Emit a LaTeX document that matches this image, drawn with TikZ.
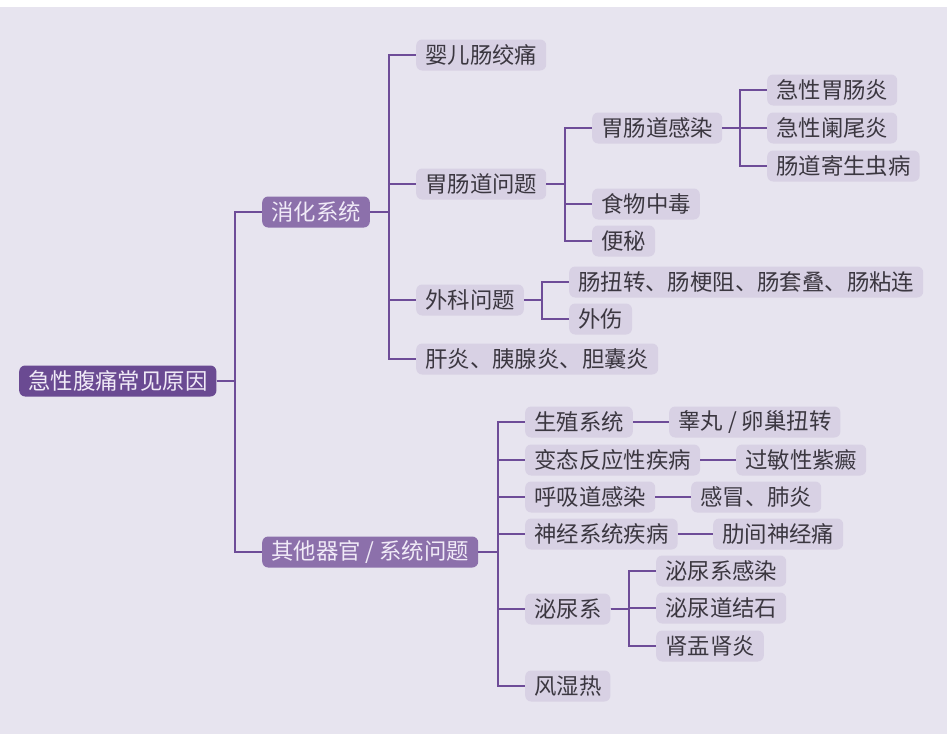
\documentclass[tikz,border=0pt]{standalone}
\usepackage{fontspec}
\newfontfamily\cjk{Noto Sans CJK SC}
\usetikzlibrary{positioning}
\definecolor{mmBack}{HTML}{E7E4EF}
\definecolor{mmRoot}{HTML}{6A4A92}
\definecolor{mmMain}{HTML}{8C70AB}
\definecolor{mmLeaf}{HTML}{D8D1E4}
\definecolor{mmLine}{HTML}{6E4C98}
\definecolor{mmInk}{HTML}{3B3740}
\definecolor{mmPale}{HTML}{F0EAF7}
\tikzset{
  box/.style={rounded corners=6pt, anchor=west, minimum height=31pt, inner xsep=9pt, inner ysep=0pt, font=\cjk\fontsize{22.4}{26}\selectfont},
  rootbox/.style={box, fill=mmRoot, text=mmPale},
  mainbox/.style={box, fill=mmMain, text=mmPale},
  leafbox/.style={box, fill=mmLeaf, text=mmInk},
  link/.style={draw=mmLine, line width=1.7pt},
}
\begin{document}
\begin{tikzpicture}[x=1pt,y=-1pt]
  \useasboundingbox (0,0) rectangle (947,742);
  \fill[mmBack] (0,7) rectangle (947,734);

  % root and main branches
  \node[rootbox] (root) at (19,381) {急性腹痛常见原因};
  \node[mainbox] (dig) at (262,212) {消化系统};
  \node[mainbox] (oth) at (262,552) {其他器官 / 系统问题};

  % digestive system
  \node[leafbox] (colic) at (416,55) {婴儿肠绞痛};
  \node[leafbox] (gi) at (416,184) {胃肠道问题};
  \node[leafbox] (surg) at (416,300) {外科问题};
  \node[leafbox] (liver) at (416,359) {肝炎、胰腺炎、胆囊炎};
  \node[leafbox] (inf) at (592,128) {胃肠道感染};
  \node[leafbox] (food) at (592,204) {食物中毒};
  \node[leafbox] (const) at (592,241) {便秘};
  \node[leafbox] (gastro) at (767,90) {急性胃肠炎};
  \node[leafbox] (append) at (767,128) {急性阑尾炎};
  \node[leafbox] (worm) at (767,166) {肠道寄生虫病};
  \node[leafbox] (obst) at (569,282) {肠扭转、肠梗阻、肠套叠、肠粘连};
  \node[leafbox] (injury) at (569,319) {外伤};

  % other organs
  \node[leafbox] (repro) at (525,422) {生殖系统};
  \node[leafbox] (allergy) at (525,460) {变态反应性疾病};
  \node[leafbox] (resp) at (525,497) {呼吸道感染};
  \node[leafbox] (nerve) at (525,534) {神经系统疾病};
  \node[leafbox] (uro) at (525,609) {泌尿系};
  \node[leafbox] (rheum) at (525,686) {风湿热};
  \node[leafbox] (torsion) at (669,422) {睾丸 / 卵巢扭转};
  \node[leafbox] (purpura) at (736,460) {过敏性紫癜};
  \node[leafbox] (cold) at (691,497) {感冒、肺炎};
  \node[leafbox] (icn) at (713,534) {肋间神经痛};
  \node[leafbox] (uti) at (656,571) {泌尿系感染};
  \node[leafbox] (stone) at (656,608) {泌尿道结石};
  \node[leafbox] (pyelo) at (656,646) {肾盂肾炎};

  % elbow connectors
  \foreach \p/\kids in {root/{dig,oth}, dig/{colic,gi,surg,liver}, gi/{inf,food,const},
      inf/{gastro,append,worm}, surg/{obst,injury}, oth/{repro,allergy,resp,nerve,uro,rheum},
      uro/{uti,stone,pyelo}}
    \foreach \c in \kids
      \draw[link] (\p.east) -| ([xshift=-27pt]\c.west) -- (\c.west);

  % single children
  \foreach \p/\c in {repro/torsion, allergy/purpura, resp/cold, nerve/icn}
    \draw[link] (\p.east) -- (\c.west);
\end{tikzpicture}
\end{document}
